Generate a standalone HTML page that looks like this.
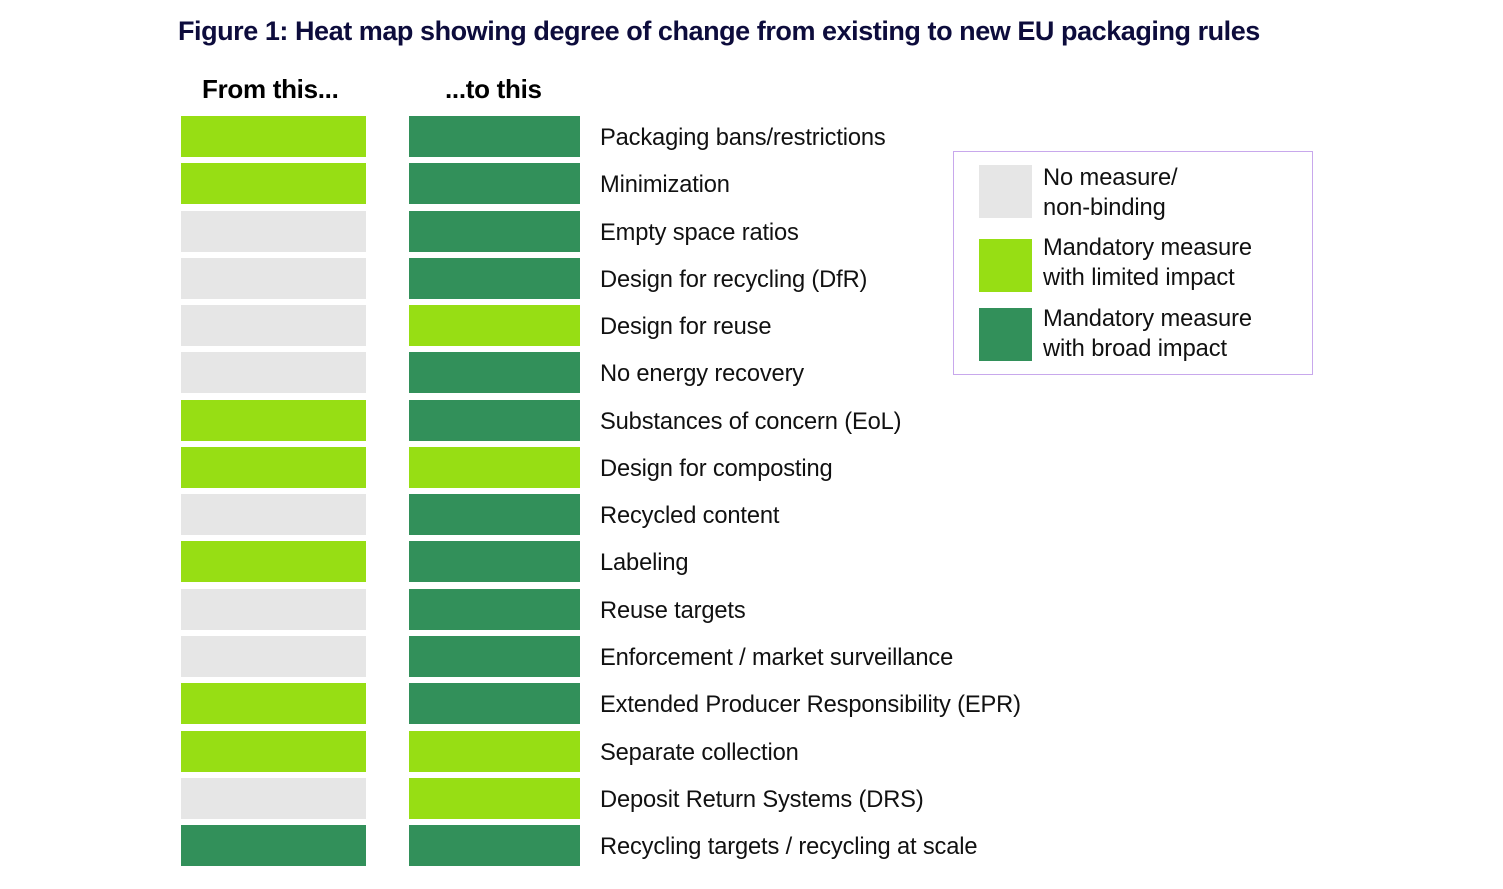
<!DOCTYPE html>
<html><head><style>
body{margin:0;width:1503px;height:889px;background:#fff;position:relative;font-family:"Liberation Sans",sans-serif;overflow:hidden}
.a{position:absolute}
.t{left:178px;top:16px;font-size:27px;font-weight:bold;color:#0d0c3c;letter-spacing:-0.45px;white-space:nowrap}
.h{font-size:26px;font-weight:bold;color:#000;top:74px;letter-spacing:-0.3px}
.c{height:41px}
.L{background:#97de14}.D{background:#32905a}.G{background:#e6e6e6}
.lb{left:600px;font-size:23.7px;color:#111;white-space:nowrap;line-height:41px;letter-spacing:-0.15px}
.box{left:953px;top:151px;width:358px;height:222px;border:1.5px solid #c8a8ec}
.sw{left:979px;width:53px;height:53px}
.lt{left:1043px;font-size:23.7px;line-height:30px;color:#111;letter-spacing:-0.1px}
</style></head><body>
<div class="a t">Figure 1: Heat map showing degree of change from existing to new EU packaging rules</div>
<div class="a h" style="left:202px">From this...</div>
<div class="a h" style="left:445px">...to this</div>
<div id="g"></div>
<div class="a box"></div>
<div class="a sw G" style="top:165px"></div>
<div class="a sw L" style="top:239px"></div>
<div class="a sw D" style="top:308px"></div>
<div class="a lt" style="top:163px">No measure/<br>non-binding</div>
<div class="a lt" style="top:233px">Mandatory measure<br>with limited impact</div>
<div class="a lt" style="top:304px">Mandatory measure<br>with broad impact</div>
<script>
var L="LLGGGGLLGLGGLLGD",R="DDDDLDDLDDDDDLLD",
N=["Packaging bans/restrictions","Minimization","Empty space ratios","Design for recycling (DfR)","Design for reuse","No energy recovery","Substances of concern (EoL)","Design for composting","Recycled content","Labeling","Reuse targets","Enforcement / market surveillance","Extended Producer Responsibility (EPR)","Separate collection","Deposit Return Systems (DRS)","Recycling targets / recycling at scale"],h="";
for(var i=0;i<16;i++){var y=Math.round(116+i*47.27);
h+='<div class="a c '+L[i]+'" style="left:181px;width:185px;top:'+y+'px"></div>';
h+='<div class="a c '+R[i]+'" style="left:409px;width:171px;top:'+y+'px"></div>';
h+='<div class="a lb" style="top:'+(y+2)+'px">'+N[i]+'</div>';}
document.getElementById("g").innerHTML=h;
</script>
</body></html>
